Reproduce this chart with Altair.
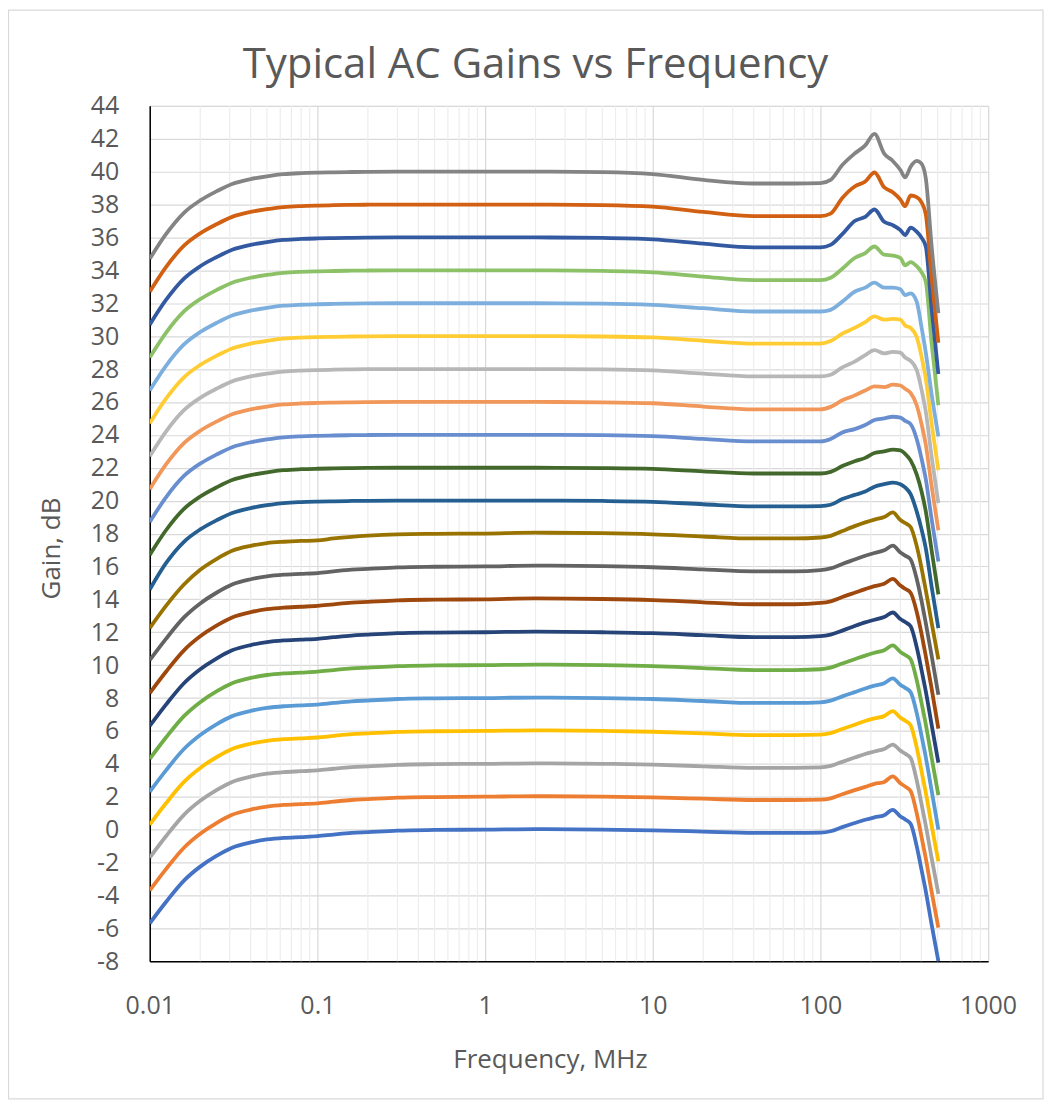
import altair as alt
import pandas as pd

# ---------------- data ----------------
freq_mhz = [0.01, 0.0125, 0.016, 0.02, 0.025, 0.031, 0.04, 0.05, 0.063, 0.08,
            0.1, 0.125, 0.16, 0.2, 0.3, 0.5, 1, 2, 5, 10, 20, 40, 70,
            100, 115, 135, 160, 185, 210, 240, 270, 300, 320, 345, 375, 400, 425, 460, 505]

gain_00db = [-5.7, -4.4, -3.1, -2.25, -1.6, -1.1, -0.78, -0.6, -0.5, -0.45, -0.4, -0.3, -0.2, -0.15, -0.06, -0.02, 0.0,
             0.03, 0.0, -0.04, -0.12, -0.2, -0.2,
             -0.18, -0.1, 0.15, 0.4, 0.6, 0.75, 0.88, 1.2, 0.8, 0.62, 0.35, -1.0, -2.4, -3.75, -5.75, -8.0]
gain_02db = [-3.7, -2.4, -1.1, -0.25, 0.4, 0.9, 1.22, 1.4, 1.5, 1.55, 1.6, 1.7, 1.8, 1.85, 1.94, 1.98, 2.0,
             2.03, 2.0, 1.96, 1.88, 1.8, 1.8,
             1.82, 1.9, 2.15, 2.4, 2.6, 2.78, 2.9, 3.24, 2.82, 2.62, 2.35, 1.0, -0.4, -1.75, -3.75, -5.96]
gain_04db = [-1.7, -0.4, 0.9, 1.75, 2.4, 2.9, 3.22, 3.4, 3.5, 3.55, 3.6, 3.7, 3.8, 3.85, 3.94, 3.98, 4.0,
             4.03, 4.0, 3.95, 3.85, 3.75, 3.75,
             3.78, 3.87, 4.12, 4.38, 4.6, 4.75, 4.9, 5.17, 4.8, 4.62, 4.35, 3.0, 1.6, 0.25, -1.7, -3.9]
gain_06db = [0.3, 1.6, 2.9, 3.75, 4.4, 4.9, 5.22, 5.4, 5.5, 5.55, 5.6, 5.7, 5.8, 5.85, 5.94, 5.98, 6.0,
             6.03, 6.0, 5.95, 5.85, 5.75, 5.75,
             5.78, 5.87, 6.12, 6.38, 6.6, 6.76, 6.9, 7.2, 6.8, 6.62, 6.35, 5.0, 3.6, 2.25, 0.27, -1.93]
gain_08db = [2.3, 3.6, 4.9, 5.75, 6.4, 6.9, 7.22, 7.4, 7.5, 7.55, 7.6, 7.7, 7.8, 7.85, 7.94, 7.98, 8.0,
             8.03, 8.0, 7.94, 7.82, 7.7, 7.7,
             7.74, 7.84, 8.1, 8.36, 8.58, 8.75, 8.9, 9.2, 8.8, 8.62, 8.36, 7.1, 5.75, 4.4, 2.4, 0.0]
gain_10db = [4.3, 5.6, 6.9, 7.75, 8.4, 8.9, 9.22, 9.4, 9.5, 9.55, 9.6, 9.7, 9.8, 9.85, 9.94, 9.98, 10.0,
             10.03, 10.0, 9.94, 9.82, 9.7, 9.7,
             9.75, 9.85, 10.1, 10.36, 10.58, 10.75, 10.9, 11.2, 10.8, 10.62, 10.36, 9.1, 7.75, 6.4, 4.4, 2.1]
gain_12db = [6.3, 7.6, 8.9, 9.75, 10.4, 10.9, 11.22, 11.4, 11.5, 11.55, 11.6, 11.7, 11.8, 11.85, 11.94, 11.98, 12.0,
             12.04, 12.0, 11.94, 11.82, 11.7, 11.7,
             11.76, 11.86, 12.1, 12.38, 12.6, 12.76, 12.92, 13.2, 12.8, 12.62, 12.36, 11.1, 9.75, 8.4, 6.4, 4.07]
gain_14db = [8.3, 9.6, 10.9, 11.75, 12.4, 12.9, 13.22, 13.4, 13.5, 13.55, 13.6, 13.7, 13.8, 13.85, 13.94, 13.98, 14.0,
             14.06, 14.02, 13.95, 13.82, 13.7, 13.7,
             13.78, 13.88, 14.14, 14.4, 14.62, 14.8, 14.95, 15.24, 14.84, 14.64, 14.4, 13.25, 11.95, 10.55, 8.6, 6.14]
gain_16db = [10.3, 11.6, 12.9, 13.75, 14.4, 14.9, 15.22, 15.4, 15.5, 15.55, 15.6, 15.7, 15.8, 15.85, 15.94, 15.98, 16.0,
             16.05, 16.02, 15.95, 15.82, 15.7, 15.7,
             15.78, 15.88, 16.15, 16.42, 16.65, 16.82, 16.98, 17.26, 16.85, 16.66, 16.42, 15.25, 13.95, 12.55, 10.6, 8.2]
gain_18db = [12.25, 13.6, 14.9, 15.8, 16.45, 16.95, 17.25, 17.42, 17.5, 17.55, 17.58, 17.7, 17.8, 17.87, 17.95, 17.98, 18.0,
             18.05, 18.02, 17.95, 17.82, 17.7, 17.7,
             17.76, 17.86, 18.15, 18.45, 18.68, 18.85, 19.0, 19.29, 18.82, 18.64, 18.4, 17.25, 15.95, 14.55, 12.6, 10.35]
gain_20db = [14.6, 16.2, 17.5, 18.25, 18.8, 19.25, 19.55, 19.72, 19.85, 19.91, 19.94, 19.96, 19.98, 19.99, 20.0, 20.0, 20.0,
             20.0, 19.98, 19.93, 19.78, 19.65, 19.65,
             19.67, 19.75, 20.1, 20.35, 20.55, 20.85, 21.0, 21.1, 21.0, 20.8, 20.4, 19.35, 18.3, 17.1, 14.8, 12.25]
gain_22db = [16.7, 18.2, 19.5, 20.25, 20.8, 21.25, 21.55, 21.72, 21.85, 21.91, 21.94, 21.96, 21.98, 21.99, 22.0, 22.0, 22.0,
             22.0, 21.98, 21.93, 21.78, 21.65, 21.65,
             21.65, 21.75, 22.1, 22.4, 22.6, 22.9, 23.0, 23.1, 23.05, 22.85, 22.45, 21.6, 20.6, 19.35, 17.0, 14.3]
gain_24db = [18.7, 20.2, 21.5, 22.25, 22.8, 23.25, 23.55, 23.72, 23.85, 23.91, 23.94, 23.96, 23.98, 23.99, 24.0, 24.0, 24.0,
             24.0, 23.98, 23.92, 23.75, 23.6, 23.6,
             23.6, 23.75, 24.15, 24.35, 24.6, 24.9, 25.0, 25.1, 25.05, 24.85, 24.65, 23.75, 22.6, 21.3, 18.9, 16.3]
gain_26db = [20.7, 22.2, 23.5, 24.25, 24.8, 25.25, 25.55, 25.72, 25.85, 25.91, 25.94, 25.96, 25.98, 25.99, 26.0, 26.0, 26.0,
             26.0, 25.98, 25.92, 25.72, 25.55, 25.55,
             25.55, 25.7, 26.1, 26.4, 26.7, 26.95, 26.9, 27.05, 27.0, 26.8, 26.55, 25.8, 24.7, 23.4, 20.9, 18.2]
gain_28db = [22.7, 24.2, 25.5, 26.25, 26.8, 27.25, 27.55, 27.72, 27.85, 27.91, 27.94, 27.96, 27.98, 27.99, 28.0, 28.0, 28.0,
             28.0, 27.98, 27.92, 27.72, 27.55, 27.55,
             27.55, 27.65, 28.1, 28.45, 28.85, 29.15, 28.95, 29.05, 29.0, 28.7, 28.5, 27.95, 26.8, 25.4, 22.7, 19.85]
gain_30db = [24.7, 26.2, 27.5, 28.25, 28.8, 29.25, 29.55, 29.72, 29.85, 29.91, 29.94, 29.96, 29.98, 29.99, 30.0, 30.0, 30.0,
             30.0, 29.98, 29.92, 29.72, 29.55, 29.55,
             29.55, 29.7, 30.15, 30.5, 30.85, 31.2, 31.0, 31.05, 31.0, 30.65, 30.5, 29.95, 28.8, 27.4, 24.7, 21.85]
gain_32db = [26.7, 28.2, 29.5, 30.25, 30.8, 31.25, 31.55, 31.72, 31.85, 31.91, 31.94, 31.96, 31.98, 31.99, 32.0, 32.0, 32.0,
             32.0, 31.98, 31.9, 31.7, 31.5, 31.5,
             31.5, 31.6, 32.1, 32.7, 32.95, 33.25, 32.95, 32.95, 32.85, 32.5, 32.6, 32.1, 30.6, 29.0, 26.5, 23.9]
gain_34db = [28.7, 30.2, 31.5, 32.25, 32.8, 33.25, 33.55, 33.72, 33.85, 33.91, 33.94, 33.96, 33.98, 33.99, 34.0, 34.0, 34.0,
             34.0, 33.97, 33.88, 33.62, 33.4, 33.4,
             33.4, 33.55, 34.1, 34.75, 35.05, 35.45, 34.95, 34.9, 34.75, 34.3, 34.5, 34.25, 33.9, 33.3, 29.6, 25.8]
gain_36db = [30.7, 32.2, 33.5, 34.25, 34.8, 35.25, 35.55, 35.72, 35.85, 35.91, 35.94, 35.96, 35.98, 35.99, 36.0, 36.0, 36.0,
             36.0, 35.97, 35.88, 35.62, 35.4, 35.4,
             35.4, 35.55, 36.2, 37.0, 37.25, 37.7, 36.95, 36.75, 36.45, 36.15, 36.6, 36.35, 36.0, 35.45, 31.7, 27.7]
gain_38db = [32.7, 34.2, 35.5, 36.25, 36.8, 37.25, 37.55, 37.72, 37.85, 37.91, 37.94, 37.96, 37.98, 37.99, 38.0, 38.0, 38.0,
             38.0, 37.97, 37.87, 37.55, 37.3, 37.3,
             37.3, 37.45, 38.4, 39.1, 39.4, 39.95, 39.05, 38.75, 38.3, 37.9, 38.55, 38.45, 38.15, 37.4, 33.6, 29.6]
gain_40db = [34.7, 36.2, 37.5, 38.25, 38.8, 39.25, 39.55, 39.72, 39.85, 39.91, 39.94, 39.96, 39.98, 39.99, 40.0, 40.0, 40.0,
             40.0, 39.97, 39.85, 39.5, 39.28, 39.28,
             39.3, 39.5, 40.4, 41.1, 41.6, 42.3, 41.1, 40.65, 40.1, 39.65, 40.3, 40.65, 40.5, 39.6, 35.5, 31.4]

curve_labels = ["0 dB", "2 dB", "4 dB", "6 dB", "8 dB", "10 dB", "12 dB", "14 dB", "16 dB", "18 dB",
                "20 dB", "22 dB", "24 dB", "26 dB", "28 dB", "30 dB", "32 dB", "34 dB", "36 dB", "38 dB", "40 dB"]
curve_colors = ["#4472C4", "#ED7D31", "#A5A5A5", "#FFC000", "#5B9BD5", "#70AD47",
                "#264478", "#9E480E", "#636363", "#997300", "#255E91", "#43682B",
                "#698ED0", "#F1975A", "#B7B7B7", "#FFCD33", "#7CAFDD", "#8CC168",
                "#335AA1", "#D26012", "#848484"]

chart_title = "Typical AC Gains vs Frequency"

decade_ticks = [0.01, 0.1, 1, 10, 100, 1000]
minor_ticks = [0.02, 0.03, 0.04, 0.05, 0.06, 0.07, 0.08, 0.09,
               0.2, 0.3, 0.4, 0.5, 0.6, 0.7, 0.8, 0.9,
               2, 3, 4, 5, 6, 7, 8, 9,
               20, 30, 40, 50, 60, 70, 80, 90,
               200, 300, 400, 500, 600, 700, 800, 900]
gain_ticks = [-8, -6, -4, -2, 0, 2, 4, 6, 8, 10, 12, 14, 16, 18, 20, 22,
              24, 26, 28, 30, 32, 34, 36, 38, 40, 42, 44]

# ---------------- build table ----------------
series = [gain_00db, gain_02db, gain_04db, gain_06db, gain_08db, gain_10db, gain_12db,
          gain_14db, gain_16db, gain_18db, gain_20db, gain_22db, gain_24db, gain_26db,
          gain_28db, gain_30db, gain_32db, gain_34db, gain_36db, gain_38db, gain_40db]
rows = []
for lab, vals in zip(curve_labels, series):
    for f, v in zip(freq_mhz, vals):
        rows.append({"freq": f, "gain": v, "curve": lab})
df = pd.DataFrame(rows)
minor_df = pd.DataFrame({"freq": minor_ticks})

FONT = "Open Sans"
TXT = "#595959"

x_scale = alt.Scale(type="log", domain=[0.01, 1000], nice=False)
x_axis = alt.Axis(values=decade_ticks, labelExpr="datum.value + ''", title="Frequency, MHz",
                  grid=True, gridColor="#D9D9D9", gridWidth=1.2, ticks=False,
                  domainColor="#000000", domainWidth=1.5, labelFlush=False, labelOverlap=False,
                  labelFont=FONT, labelFontSize=25, labelColor=TXT, labelPadding=32,
                  titleFont=FONT, titleFontSize=26, titleFontWeight="normal", titleColor=TXT,
                  titleX=401, titleY=98, titleBaseline="middle", titleAlign="center")
y_axis = alt.Axis(values=gain_ticks, labelExpr="datum.value + ''", title="Gain, dB",
                  grid=True, gridColor="#D9D9D9", gridWidth=1.2, ticks=False,
                  domainColor="#000000", domainWidth=1.5, labelFlush=False, labelOverlap=False,
                  labelFont=FONT, labelFontSize=25, labelColor=TXT, labelPadding=31,
                  titleFont=FONT, titleFontSize=26, titleFontWeight="normal", titleColor=TXT,
                  titleX=-98, titleY=443, titleBaseline="middle", titleAlign="center", titleAngle=270)

minor = alt.Chart(minor_df).mark_rule(color="#EDEDED", strokeWidth=1.2).encode(
    x=alt.X("freq:Q", scale=x_scale, axis=x_axis)
)

lines = alt.Chart(df).mark_line(strokeWidth=3.8, interpolate="monotone", clip=True).encode(
    x=alt.X("freq:Q", scale=x_scale, axis=x_axis),
    y=alt.Y("gain:Q", scale=alt.Scale(domain=[-8, 44], nice=False, zero=False), axis=y_axis),
    color=alt.Color("curve:N", scale=alt.Scale(domain=curve_labels, range=curve_colors), legend=None),
    detail="curve:N",
)

border = alt.Chart(alt.Data(values=[{"k": 1}])).mark_rect(
    fill="transparent", stroke="#D9D9D9", strokeWidth=1.2
).encode(
    x=alt.value(-141.5), x2=alt.value(895), y=alt.value(-96), y2=alt.value(995)
)

title_text = alt.Chart(alt.Data(values=[{"t": chart_title}])).mark_text(
    font=FONT, fontSize=42, color=TXT, align="center", baseline="alphabetic"
).encode(
    text="t:N", x=alt.value(386.5), y=alt.value(-28)
)

chart = alt.layer(minor, lines, border, title_text).properties(
    width=840, height=857,
    padding={"left": 142, "top": 97, "right": 56, "bottom": 139},
    autosize=alt.AutoSizeParams(type="none"),
).configure_view(stroke="transparent").configure(background="white")

chart.save("out.html", embed_options={"renderer": "svg", "actions": False})
